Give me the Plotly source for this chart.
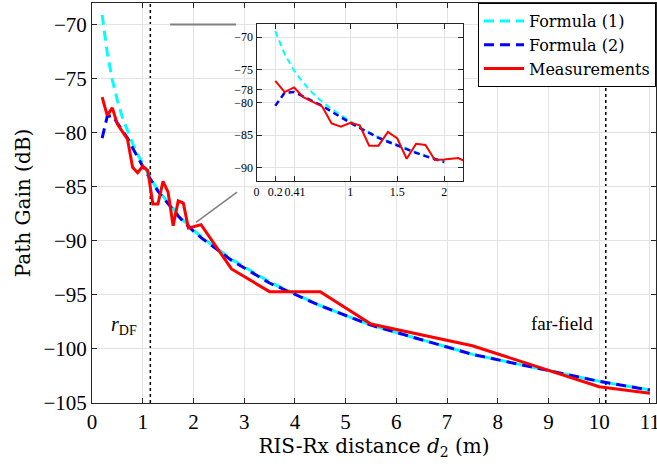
import plotly.graph_objects as go

# RIS-Rx distance (m) at which path gain is evaluated / measured
d2 = [0.2, 0.3, 0.4, 0.5, 0.6, 0.7, 0.8, 0.9, 1.0, 1.1, 1.2, 1.3, 1.4, 1.5,
      1.6, 1.7, 1.8, 1.9, 2.0, 2.15, 2.75, 3.5, 4.5, 5.5, 7.5, 10.0, 11.0]

# Path gain (dB)
formula1 = [-69.1, -72.6, -75.1, -77.0, -78.6, -79.9, -81.0, -82.0, -82.9,
            -83.8, -84.6, -85.3, -85.9, -86.5, -87.1, -87.6, -88.1, -88.6,
            -89.0, -89.6, -91.7, -93.8, -96.0, -97.8, -100.5, -103.0, -103.8]
formula2 = [-80.5, -78.5, -78.4, -79.1, -79.8, -80.5, -81.4, -82.3, -83.1,
            -83.9, -84.7, -85.4, -86.0, -86.6, -87.2, -87.7, -88.2, -88.7,
            -89.1, -89.7, -91.8, -93.9, -96.0, -97.8, -100.5, -103.0, -103.8]
measured = [-76.7, -78.4, -77.7, -79.2, -79.9, -80.6, -83.2, -83.7, -83.1,
            -83.5, -86.6, -86.6, -84.5, -85.5, -88.6, -86.3, -86.5, -88.8,
            -88.7, -88.5, -92.6, -94.7, -94.7, -97.7, -99.7, -103.5, -104.1]

x_ticks = list(range(0, 12))
y_ticks = [-105, -100, -95, -90, -85, -80, -75, -70]
inset_x_ticks = [0, 0.2, 0.41, 1, 1.5, 2]
inset_x_labels = ["0", "0.2", "0.41", "1", "1.5", "2"]
inset_y_ticks = [-90, -85, -80, -78, -75, -70]

r_df = 1.15      # near-field boundary
r_ff = 10.13     # far-field boundary

W, H = 657, 472
ML, MR, MT, MB = 92, 1, 3, 69
PW, PH = W - ML - MR, H - MT - MB


def px_x(p):
    return (p - ML) / PW


def px_y(p):
    return 1 - (p - MT) / PH


TICK_FONT = "Liberation Serif, serif"
TEXT_FONT = "DejaVu Serif, serif"
AX = "#262626"
GRID = "#e3e3e3"
CYAN = "#00ffff"
BLUE = "#0000ff"
RED = "#ff0000"

fig = go.Figure()

# main axes
fig.add_trace(go.Scatter(x=d2, y=formula1, mode="lines", name="Formula (1)",
                         line=dict(color=CYAN, width=3, dash="10px,6px")))
fig.add_trace(go.Scatter(x=d2, y=formula2, mode="lines", name="Formula (2)",
                         line=dict(color=BLUE, width=3, dash="10px,6px")))
fig.add_trace(go.Scatter(x=d2, y=measured, mode="lines", name="Measurements",
                         line=dict(color=RED, width=3)))

# zoomed inset of the near region
near = [i for i, v in enumerate(d2) if v <= 2.0]
fig.add_trace(go.Scatter(x=[d2[i] for i in near], y=[formula1[i] for i in near],
                         mode="lines", xaxis="x2", yaxis="y2", showlegend=False,
                         line=dict(color=CYAN, width=2, dash="6px,4px")))
fig.add_trace(go.Scatter(x=[d2[i] for i in near], y=[formula2[i] for i in near],
                         mode="lines", xaxis="x2", yaxis="y2", showlegend=False,
                         line=dict(color=BLUE, width=2.5, dash="6px,4px")))
fig.add_trace(go.Scatter(x=d2, y=measured, mode="lines", xaxis="x2", yaxis="y2",
                         showlegend=False, line=dict(color=RED, width=2)))

axis_common = dict(showline=True, linecolor=AX, linewidth=1, mirror="ticks",
                   ticks="inside", ticklen=5, tickcolor=AX, showgrid=True,
                   gridcolor=GRID, gridwidth=1, zeroline=False,
                   ticklabeloverflow="allow", tickangle=0)

fig.update_layout(
    width=W, height=H,
    margin=dict(l=ML, r=MR, t=MT, b=MB, pad=0),
    paper_bgcolor="white", plot_bgcolor="white",
    font=dict(family=TICK_FONT, color="black"),
    xaxis=dict(range=[0, 11.12], tickvals=x_ticks, tickfont=dict(size=21),
               title=dict(text="RIS-Rx distance <i>d</i><sub>2</sub> (m)",
                          font=dict(family=TEXT_FONT, size=20), standoff=4),
               automargin=False, **axis_common),
    yaxis=dict(range=[-105, -68], tickvals=y_ticks, tickfont=dict(size=21),
               title=dict(text="Path Gain (dB)",
                          font=dict(family=TEXT_FONT, size=20), standoff=7),
               automargin=False, **axis_common),
    xaxis2=dict(domain=[px_x(256.5), px_x(463)], anchor="y2", range=[0, 2.2],
                tickvals=inset_x_ticks, ticktext=inset_x_labels,
                tickfont=dict(size=12), **axis_common),
    yaxis2=dict(domain=[px_y(181), px_y(24)], anchor="x2", range=[-92, -68],
                tickvals=inset_y_ticks, tickfont=dict(size=12), **axis_common),
    legend=dict(x=1, y=1, xanchor="right", yanchor="top",
                bgcolor="white", bordercolor="black", borderwidth=1,
                font=dict(family=TEXT_FONT, size=16), tracegroupgap=0,
                itemwidth=40),
    showlegend=True,
)

# boundary markers
for xv in (r_df, r_ff):
    fig.add_shape(type="line", xref="x", yref="paper", x0=xv, x1=xv, y0=0, y1=1,
                  line=dict(color="black", width=1.5, dash="dot"), layer="below")

# connector lines to the inset
fig.add_shape(type="line", xref="x", yref="y", x0=1.54, x1=2.84, y0=-70.0, y1=-70.0,
              line=dict(color="#808080", width=2))
fig.add_shape(type="line", xref="x", yref="y", x0=2.05, x1=2.86, y0=-88.3, y1=-85.5,
              line=dict(color="#808080", width=1.5))

fig.add_annotation(x=0.63, y=-97.8, xref="x", yref="y", showarrow=False,
                   text="<i>r</i><sub>DF</sub>", font=dict(family=TICK_FONT, size=20))
fig.add_annotation(x=9.27, y=-97.6, xref="x", yref="y", showarrow=False,
                   text="far-field", font=dict(family=TICK_FONT, size=19))

fig.write_html("out.html")
